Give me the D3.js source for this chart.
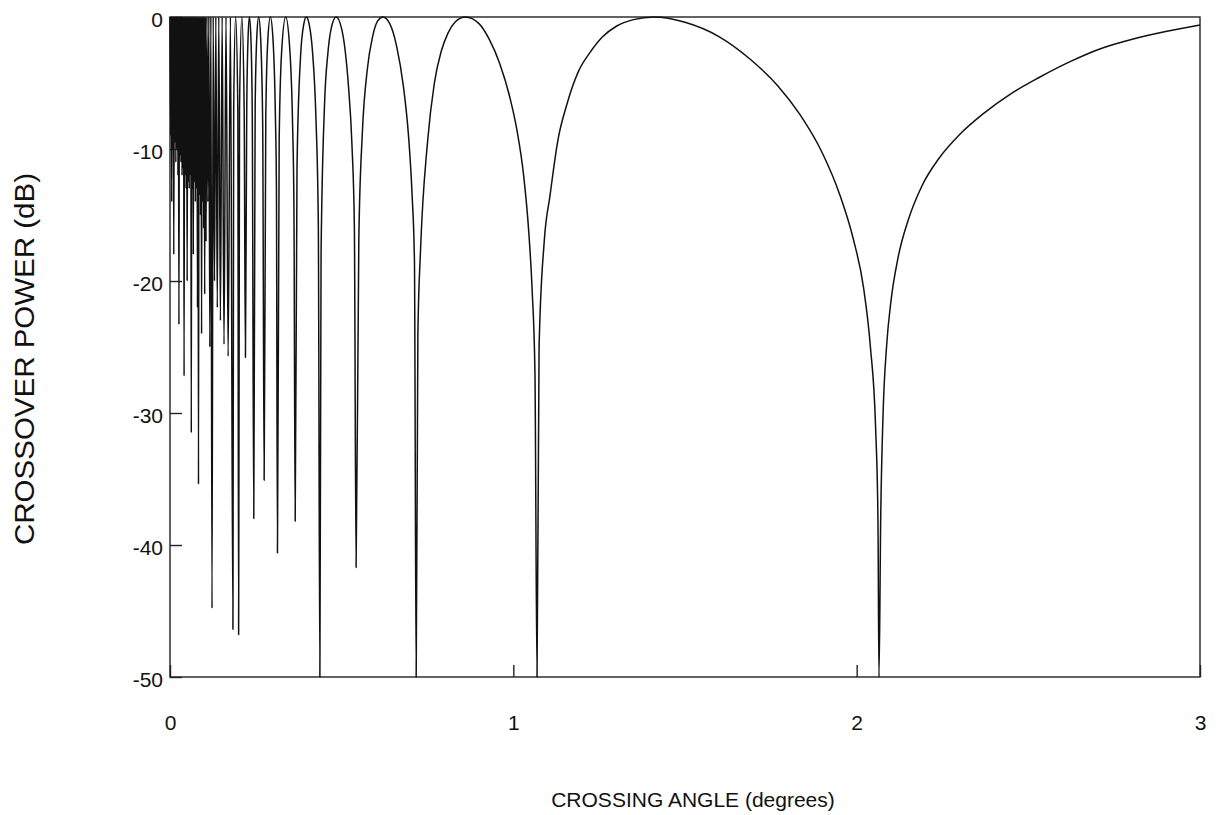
<!DOCTYPE html>
<html>
<head>
<meta charset="utf-8">
<script src="https://cdn.jsdelivr.net/npm/d3@7"></script>
<style>
  html, body { margin: 0; padding: 0; background: #fff; }
  svg { display: block; }
  text { font-family: "Liberation Sans", Arial, Helvetica, sans-serif; fill: #111; }
</style>
</head>
<body>
<svg id="chart" width="1222" height="815"></svg>
<script>
// Crossover power (dB) versus crossing angle (degrees).
// Dense interference fringes close to zero angle: [angle, dB] pairs.
const fringe = [
  [0.000, 0], [0.002, -9], [0.0035, 0], [0.005, -14], [0.0065, 0], [0.008, -10], [0.0095, 0],
  [0.011, -18], [0.0125, 0], [0.014, -9.5], [0.0155, 0], [0.017, -11], [0.0185, 0],
  [0.020, -10], [0.0215, 0], [0.023, -12], [0.0245, 0], [0.026, -23.3], [0.0275, 0],
  [0.029, -10.5], [0.0305, 0], [0.032, -11], [0.0335, 0], [0.035, -12], [0.0365, 0],
  [0.038, -11.5], [0.0395, 0], [0.041, -27.2], [0.0425, 0], [0.044, -12], [0.0455, 0],
  [0.047, -13], [0.0485, 0], [0.050, -20], [0.0515, 0], [0.053, -12.5], [0.0545, 0],
  [0.056, -13], [0.0575, 0], [0.059, -12], [0.0605, 0], [0.062, -31.5], [0.0635, 0],
  [0.065, -13], [0.0665, 0], [0.068, -18], [0.0695, 0], [0.071, -12.5], [0.0725, 0],
  [0.074, -14], [0.0755, 0], [0.077, -13], [0.0785, 0], [0.080, -22], [0.0815, 0],
  [0.083, -35.4], [0.0845, 0], [0.086, -13.5], [0.0875, 0], [0.089, -15], [0.0905, 0],
  [0.092, -24], [0.0935, 0], [0.095, -14], [0.0965, 0], [0.098, -16], [0.0995, 0],
  [0.101, -21], [0.103, 0]
];

// Narrow side lobes between 0.1 and 0.44 degrees.
const sidelobes = [
  [0.105, -17], [0.1075, 0], [0.1102, -14], [0.1131, 0], [0.116, -25], [0.119, 0],
  [0.1224, -44.8], [0.1258, 0], [0.1296, -20], [0.1335, 0], [0.1377, -22], [0.1421, 0],
  [0.1468, -23], [0.1519, 0], [0.1573, -24.8], [0.1631, 0], [0.1693, -25.7], [0.176, 0],
  [0.1833, -46.4], [0.1855, -7], [0.1912, 0], [0.1975, -7],
  [0.1999, -46.8], [0.2025, -7], [0.2093, 0], [0.216, -7],
  [0.2197, -25.8], [0.2235, -7], [0.2275, -1.5], [0.2312, 0], [0.2355, -1.5], [0.2395, -7],
  [0.244, -38], [0.248, -6.9], [0.253, -1.4], [0.2582, 0], [0.264, -1.6], [0.270, -8.2],
  [0.2742, -35.1], [0.279, -7.5], [0.285, -1.7], [0.2923, 0], [0.300, -1.7], [0.307, -7.5], [0.310, -13],
  [0.313, -40.6], [0.318, -9.3], [0.325, -2.7], [0.337, 0], [0.348, -2.1], [0.357, -8.1], [0.361, -14.4],
  [0.3646, -38.2], [0.370, -11.3], [0.380, -3.1], [0.390, -0.5], [0.397, 0], [0.405, -0.5],
  [0.415, -2.6], [0.425, -7.6], [0.432, -15.6]
];

// Wide main lobes from 0.44 to 3 degrees.
const mainLobes = [
  [0.4365, -50], [0.44, -18], [0.45, -6.7], [0.46, -2.7], [0.47, -0.8], [0.484, 0],
  [0.50, -0.9], [0.51, -2.5], [0.52, -5.3], [0.53, -9.7], [0.537, -15.9],
  [0.542, -41.7], [0.55, -16.8], [0.56, -8.9], [0.575, -3.9], [0.59, -1.5], [0.605, -0.3],
  [0.62, 0], [0.64, -0.5], [0.66, -2.2], [0.68, -5.3], [0.695, -9.1], [0.705, -13.4], [0.712, -18.5],
  [0.717, -50], [0.722, -24], [0.73, -17.5], [0.75, -9.5], [0.77, -5], [0.79, -2.6], [0.81, -1.2],
  [0.83, -0.4], [0.86, 0], [0.90, -0.5], [0.93, -1.7], [0.96, -3.5], [0.99, -6.1], [1.01, -8.5],
  [1.03, -12], [1.045, -16.3], [1.055, -20.8], [1.063, -27],
  [1.069, -50], [1.075, -25], [1.09, -17], [1.107, -13.5], [1.13, -9.3], [1.155, -6.7], [1.19, -4.1],
  [1.223, -2.7], [1.26, -1.5], [1.30, -0.7], [1.35, -0.2], [1.41, 0], [1.50, -0.4], [1.60, -1.5],
  [1.69, -3.2], [1.77, -5.2], [1.835, -7.4], [1.90, -10.3], [1.95, -13.4], [1.99, -16.8],
  [2.02, -20.5], [2.04, -25], [2.055, -31], [2.062, -38],
  [2.065, -50], [2.07, -38], [2.077, -30], [2.087, -25], [2.10, -21.5], [2.12, -18.3], [2.15, -15.4],
  [2.19, -12.8], [2.24, -10.7], [2.30, -8.9], [2.37, -7.3], [2.45, -5.8], [2.53, -4.6], [2.62, -3.4],
  [2.71, -2.4], [2.80, -1.7], [2.90, -1.1], [3.00, -0.6]
];

const xTicks = [0, 1, 2, 3];
const yTicks = [0, -10, -20, -30, -40, -50];
const xTitle = "CROSSING ANGLE (degrees)";
const yTitle = "CROSSOVER POWER (dB)";

const svg = d3.select("#chart");
const plotLeft = 170, plotRight = 1200, plotTop = 17, plotBottom = 677;

const x = d3.scaleLinear().domain([0, 3]).range([plotLeft, plotRight]);
const y = d3.scaleLinear().domain([-50, 0]).range([plotBottom, plotTop]);

// plain hyphen for negative labels
const plainNumber = d => String(d);

// frame
svg.append("rect")
  .attr("x", plotLeft).attr("y", plotTop)
  .attr("width", plotRight - plotLeft).attr("height", plotBottom - plotTop)
  .attr("fill", "none").attr("stroke", "#222").attr("stroke-width", 1.4);

// x axis: short inward ticks, labels well below
const gx = svg.append("g")
  .attr("transform", `translate(0,${plotBottom})`)
  .call(d3.axisBottom(x).tickValues(xTicks).tickFormat(plainNumber)
    .tickSizeInner(-12).tickSizeOuter(0).tickPadding(38));
gx.select(".domain").remove();
gx.selectAll("line").attr("stroke", "#222").attr("stroke-width", 1.4);
gx.selectAll("text").attr("font-size", 21).style("font-family", '"Liberation Sans", Arial, sans-serif');

// y axis
const gy = svg.append("g")
  .attr("transform", `translate(${plotLeft},0)`)
  .call(d3.axisLeft(y).tickValues(yTicks).tickFormat(plainNumber)
    .tickSizeInner(-12).tickSizeOuter(0).tickPadding(7));
gy.select(".domain").remove();
gy.selectAll("line").attr("stroke", "#222").attr("stroke-width", 1.4);
gy.selectAll("text").attr("font-size", 21).attr("dy", "0.47em")
  .style("font-family", '"Liberation Sans", Arial, sans-serif');

// curve
const data = fringe.concat(sidelobes, mainLobes);
const line = d3.line()
  .x(d => x(d[0]))
  .y(d => y(d[1]))
  .curve(d3.curveMonotoneX);

svg.append("path")
  .datum(data)
  .attr("d", line)
  .attr("fill", "none")
  .attr("stroke", "#111")
  .attr("stroke-width", 1.5)
  .attr("stroke-linejoin", "round");

// axis titles
svg.append("text")
  .attr("x", 693).attr("y", 807)
  .attr("text-anchor", "middle").attr("font-size", 21)
  .text(xTitle);

svg.append("text")
  .attr("transform", "translate(34,359) rotate(-90)")
  .attr("text-anchor", "middle").attr("font-size", 27)
  .attr("textLength", 372).attr("lengthAdjust", "spacingAndGlyphs")
  .text(yTitle);
</script>
</body>
</html>
